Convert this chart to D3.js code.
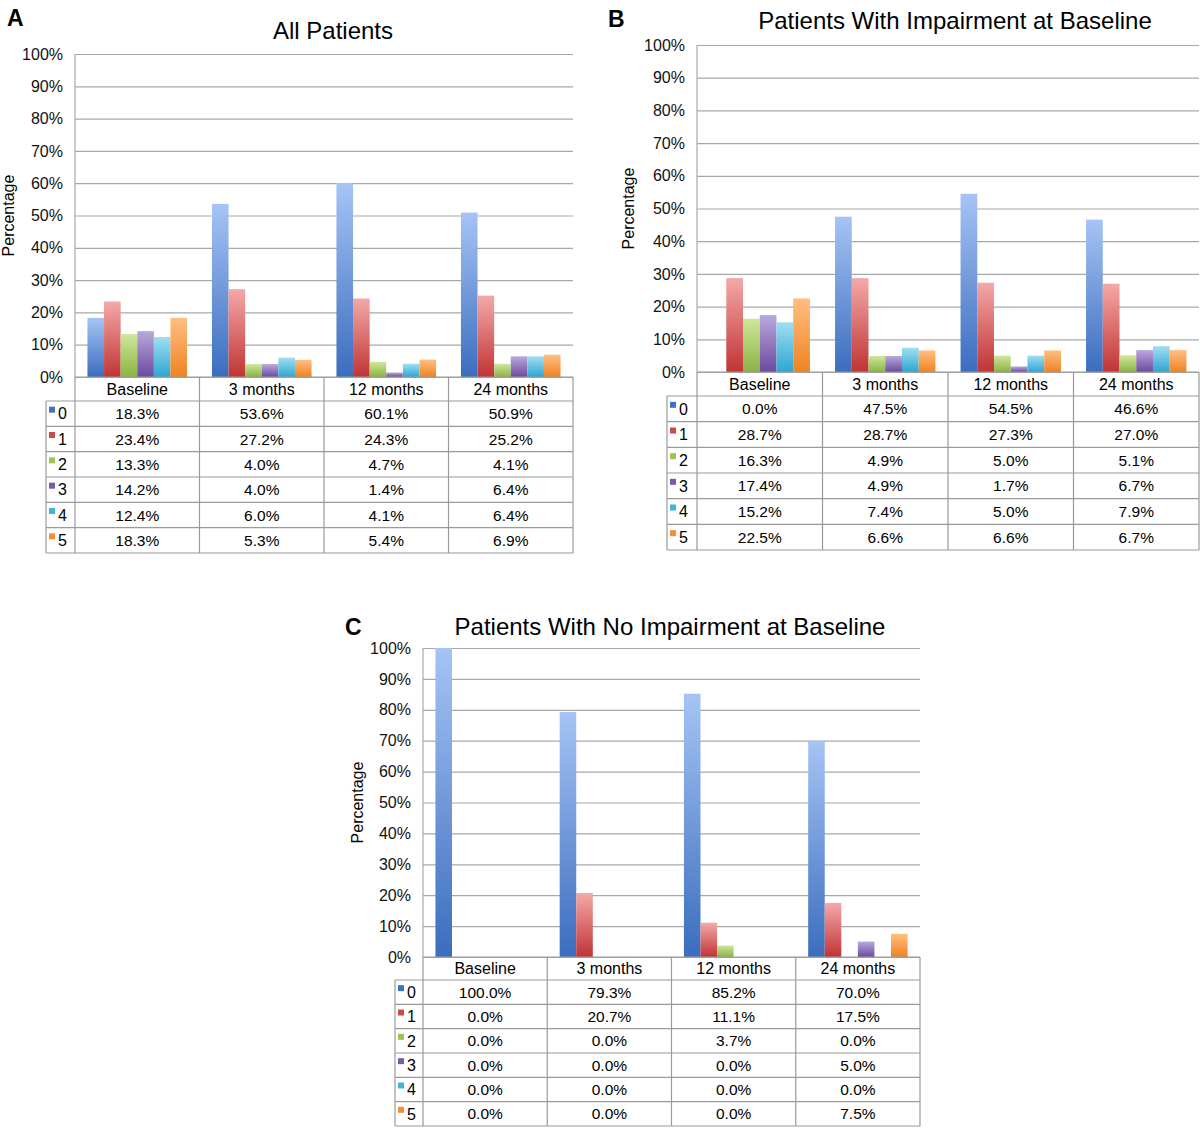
<!DOCTYPE html>
<html>
<head>
<meta charset="utf-8">
<script src="https://cdn.jsdelivr.net/npm/d3@7"></script>
<style>
  body { margin: 0; background: #fff; }
  svg { font-family: "Liberation Sans", Arial, sans-serif; }
</style>
</head>
<body>
<div id="chart"></div>
<script>
// data
let categories = ["Baseline", "3 months", "12 months", "24 months"]
let seriesNames = ["0", "1", "2", "3", "4", "5"]
let yTicks = [0, 10, 20, 30, 40, 50, 60, 70, 80, 90, 100]

let allPatients = [
  [18.3, 53.6, 60.1, 50.9],
  [23.4, 27.2, 24.3, 25.2],
  [13.3, 4.0, 4.7, 4.1],
  [14.2, 4.0, 1.4, 6.4],
  [12.4, 6.0, 4.1, 6.4],
  [18.3, 5.3, 5.4, 6.9]
]
let impaired = [
  [0.0, 47.5, 54.5, 46.6],
  [28.7, 28.7, 27.3, 27.0],
  [16.3, 4.9, 5.0, 5.1],
  [17.4, 4.9, 1.7, 6.7],
  [15.2, 7.4, 5.0, 7.9],
  [22.5, 6.6, 6.6, 6.7]
]
let notImpaired = [
  [100.0, 79.3, 85.2, 70.0],
  [0.0, 20.7, 11.1, 17.5],
  [0.0, 0.0, 3.7, 0.0],
  [0.0, 0.0, 0.0, 5.0],
  [0.0, 0.0, 0.0, 0.0],
  [0.0, 0.0, 0.0, 7.5]
]

// gradient colours per series: light top, dark bottom
let topColors = ["#a6c4f5", "#f5a8a8", "#cfe79c", "#bba8de", "#a0def3", "#ffbf82"]
let bottomColors = ["#3b6dbe", "#c03434", "#8ab342", "#6b4a9d", "#2ea6d0", "#ef8322"]
let legendColors = ["#3f72c4", "#d04848", "#9cc450", "#7a5aa8", "#40b4dc", "#f39033"]

let width = 1200
let height = 1132
let gridColor = "#a8a8a8"
let tableColor = "#9a9a9a"

let svg = d3.select("#chart")
  .append("svg")
  .attr("width", width)
  .attr("height", height)

let defs = svg.append("defs")
seriesNames.forEach((s, i) => {
  let g = defs.append("linearGradient")
    .attr("id", "grad" + i)
    .attr("x1", 0).attr("y1", 0)
    .attr("x2", 0).attr("y2", 1)
  g.append("stop").attr("offset", "0%").attr("stop-color", topColors[i])
  g.append("stop").attr("offset", "100%").attr("stop-color", bottomColors[i])
})

function drawPanel(p) {
  let g = svg.append("g")

  let x = d3.scaleBand()
    .domain(categories)
    .range([p.left, p.right])

  let xInner = d3.scaleBand()
    .domain(seriesNames)
    .range([x.bandwidth() * 0.1, x.bandwidth() * 0.9])

  let y = d3.scaleLinear()
    .domain([0, 100])
    .range([p.bottom, p.top])

  // panel letter + title
  g.append("text")
    .attr("x", p.letterX).attr("y", p.letterY)
    .attr("font-size", 23).attr("font-weight", "bold")
    .text(p.letter)

  g.append("text")
    .attr("x", p.titleX).attr("y", p.titleY)
    .attr("text-anchor", "middle")
    .attr("font-size", 24)
    .text(p.title)

  // y axis label
  g.append("text")
    .attr("transform", `translate(${p.labelX},${(p.top + p.bottom) / 2}) rotate(-90)`)
    .attr("text-anchor", "middle")
    .attr("font-size", 16)
    .text("Percentage")

  // gridlines and ticks through a d3 axis
  let yAxis = d3.axisLeft(y)
    .tickValues(yTicks)
    .tickSize(-(p.right - p.left))
    .tickPadding(12)
    .tickFormat(d => d + "%")

  let ax = g.append("g")
    .attr("transform", `translate(${p.left},0)`)
    .call(yAxis)
  ax.select(".domain").remove()
  ax.selectAll(".tick line").attr("stroke", gridColor).attr("stroke-width", 1.2)
  ax.selectAll(".tick text")
    .attr("font-size", 16)
    .attr("fill", "#111")
    .attr("font-family", "Liberation Sans, Arial, sans-serif")

  g.append("line")
    .attr("x1", p.left).attr("x2", p.left)
    .attr("y1", p.top).attr("y2", p.bottom)
    .attr("stroke", gridColor).attr("stroke-width", 1.2)

  // bars
  p.data.forEach((vals, si) => {
    g.selectAll(null)
      .data(vals.map((v, ci) => ({ v: v, c: categories[ci] })))
      .enter()
      .filter(d => d.v > 0)
      .append("rect")
      .attr("x", d => x(d.c) + xInner(seriesNames[si]))
      .attr("y", d => y(d.v))
      .attr("width", xInner.bandwidth())
      .attr("height", d => y(0) - y(d.v))
      .attr("fill", `url(#grad${si})`)
  })

  // data table
  let rowH = (p.tableBottom - p.headerBottom) / seriesNames.length
  let rowY = d3.scaleBand()
    .domain(seriesNames)
    .range([p.headerBottom, p.tableBottom])

  let t = g.append("g")
    .attr("stroke", tableColor)
    .attr("stroke-width", 1.2)

  // horizontal lines
  t.append("line")
    .attr("x1", p.left).attr("x2", p.right)
    .attr("y1", p.bottom).attr("y2", p.bottom)
  seriesNames.concat(["end"]).forEach((s, i) => {
    let yy = p.headerBottom + i * rowH
    t.append("line")
      .attr("x1", p.legendLeft).attr("x2", p.right)
      .attr("y1", yy).attr("y2", yy)
  })
  // vertical lines
  t.append("line")
    .attr("x1", p.legendLeft).attr("x2", p.legendLeft)
    .attr("y1", p.headerBottom).attr("y2", p.tableBottom)
  categories.forEach(c => {
    t.append("line")
      .attr("x1", x(c)).attr("x2", x(c))
      .attr("y1", p.bottom).attr("y2", p.tableBottom)
  })
  t.append("line")
    .attr("x1", p.right).attr("x2", p.right)
    .attr("y1", p.bottom).attr("y2", p.tableBottom)

  // header text
  g.selectAll(null)
    .data(categories)
    .enter()
    .append("text")
    .attr("x", d => x(d) + x.bandwidth() / 2)
    .attr("y", (p.bottom + p.headerBottom) / 2)
    .attr("dy", "0.36em")
    .attr("text-anchor", "middle")
    .attr("font-size", 16)
    .text(d => d)

  // legend keys
  seriesNames.forEach((s, si) => {
    let cy = rowY(s) + rowY.bandwidth() / 2
    g.append("rect")
      .attr("x", p.legendLeft + 3)
      .attr("y", cy - 7)
      .attr("width", 6).attr("height", 6)
      .attr("fill", legendColors[si])
    g.append("text")
      .attr("x", p.legendLeft + 12)
      .attr("y", cy)
      .attr("dy", "0.36em")
      .attr("font-size", 16)
      .text(s)

    g.selectAll(null)
      .data(p.data[si])
      .enter()
      .append("text")
      .attr("x", (d, ci) => x(categories[ci]) + x.bandwidth() / 2)
      .attr("y", cy)
      .attr("dy", "0.36em")
      .attr("text-anchor", "middle")
      .attr("font-size", 15.5)
      .text(d => d.toFixed(1) + "%")
  })
}

drawPanel({
  data: allPatients, letter: "A", title: "All Patients",
  left: 75, right: 573, top: 54, bottom: 377,
  headerBottom: 401, tableBottom: 553, legendLeft: 46,
  letterX: 7, letterY: 26, titleX: 333, titleY: 39, labelX: 14
})

drawPanel({
  data: impaired, letter: "B", title: "Patients With Impairment at Baseline",
  left: 697, right: 1199, top: 45, bottom: 372,
  headerBottom: 396, tableBottom: 550, legendLeft: 667,
  letterX: 608, letterY: 27, titleX: 955, titleY: 29, labelX: 634
})

drawPanel({
  data: notImpaired, letter: "C", title: "Patients With No Impairment at Baseline",
  left: 423, right: 920, top: 648, bottom: 957,
  headerBottom: 980, tableBottom: 1126, legendLeft: 395,
  letterX: 345, letterY: 635, titleX: 670, titleY: 635, labelX: 363
})
</script>
</body>
</html>
